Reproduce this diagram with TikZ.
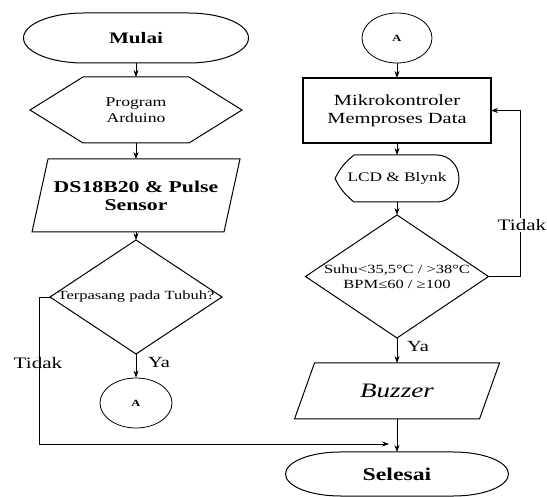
\documentclass[tikz,border=0pt]{standalone}
\usepackage{fontspec}
\setmainfont{Liberation Serif}[FakeStretch=1.32]
\usetikzlibrary{shapes.geometric,arrows.meta}

\begin{document}
\begin{tikzpicture}[x=1pt,y=1pt]
        \tikzstyle{txt}=[inner sep=0pt,outer sep=0pt,align=center]
        \tikzstyle{outline}=[draw=black,line width=1pt]
        \tikzstyle{connector}=[ellipse,draw=black,line width=0.8pt,inner sep=0pt,minimum width=72pt,minimum height=50pt,font=\bfseries\fontsize{9.5}{10}\selectfont]
        \tikzstyle{edge}=[draw,line width=0.8pt,-{Stealth[length=7pt,width=5pt]}]
        \tikzstyle{answer}=[inner sep=1pt,font=\fontsize{16}{18}\selectfont]
        \useasboundingbox (0,0) rectangle (547,-497);
        % left column
        \node [txt,minimum width=225pt,minimum height=50pt,font=\bfseries\fontsize{16}{18}\selectfont] (mulai) at (136,-38) {Mulai};
        \node [txt,minimum width=212pt,minimum height=66pt,font=\fontsize{13.4}{16.5}\selectfont] (prog) at (136,-110) {Program\\Arduino};
        \node [txt,minimum width=208pt,minimum height=73pt,font=\bfseries\fontsize{16.5}{18}\selectfont] (sens) at (136,-195.5) {DS18B20 \& Pulse\\Sensor};
        \node [txt,minimum width=172pt,minimum height=114pt,font=\fontsize{12.5}{14}\selectfont] (cek) at (136,-297) {Terpasang pada Tubuh?};
        \node [connector] (conA1) at (136,-403) {A};
        % right column
        \node [connector,minimum width=70pt] (conA2) at (397,-38) {A};
        \node [txt,draw=black,line width=1.6pt,minimum width=188pt,minimum height=65pt,font=\fontsize{15.5}{18}\selectfont] (mcu) at (397,-110.5) {Mikrokontroler\\Memproses Data};
        \node [txt,minimum width=124pt,minimum height=47pt,font=\fontsize{13.1}{15}\selectfont] (lcd) at (397,-178.5) {LCD \& Blynk};
        \node [txt,minimum width=183pt,minimum height=123pt,font=\fontsize{12.5}{14.5}\selectfont] (alarm) at (397,-276.5) {Suhu<35,5°C / >38°C\\BPM≤60 / ≥100};
        \node [txt,minimum width=205pt,minimum height=56pt,font=\itshape\fontsize{20.5}{22}\selectfont] (buzz) at (397,-391) {Buzzer};
        \node [txt,minimum width=223pt,minimum height=44pt,font=\bfseries\fontsize{18}{20}\selectfont] (selesai) at (397,-474) {Selesai};
        \coordinate (masuk) at (389,-444);
        % outlines
        \draw [outline] ([xshift=60]mulai.north west) -- ([xshift=-60]mulai.north east)
            arc [start angle=90,end angle=-90,x radius=60,y radius=25] -- ([xshift=60]mulai.south west)
            arc [start angle=270,end angle=90,x radius=60,y radius=25] -- cycle;
        \draw [outline] ([xshift=53]prog.north west) -- ([xshift=-53]prog.north east) -- (prog.east)
            -- ([xshift=-53]prog.south east) -- ([xshift=53]prog.south west) -- (prog.west) -- cycle;
        \draw [outline] ([xshift=16]sens.north west) -- (sens.north east) -- ([xshift=-16]sens.south east) -- (sens.south west) -- cycle;
        \draw [outline] (cek.north) -- (cek.east) -- (cek.south) -- (cek.west) -- cycle;
        \draw [outline] (lcd.west) to [bend left=12] ([xshift=19]lcd.north west) -- ([xshift=-22]lcd.north east)
            arc [start angle=90,end angle=-90,x radius=22,y radius=23.5] -- ([xshift=19]lcd.south west)
            to [bend left=12] (lcd.west) -- cycle;
        \draw [outline] (alarm.north) -- (alarm.east) -- (alarm.south) -- (alarm.west) -- cycle;
        \draw [outline] ([xshift=20]buzz.north west) -- (buzz.north east) -- ([xshift=-20]buzz.south east) -- (buzz.south west) -- cycle;
        \draw [outline] ([xshift=55]selesai.north west) -- ([xshift=-55]selesai.north east)
            arc [start angle=90,end angle=-90,x radius=55,y radius=22] -- ([xshift=55]selesai.south west)
            arc [start angle=270,end angle=90,x radius=55,y radius=22] -- cycle;
        % arrows
        \path[edge] (mulai) edge (prog);
        \path[edge] (prog) edge (sens);
        \path[edge] (sens) edge (cek);
        \path[edge] (cek) edge (conA1);
        \path[edge] (conA2) edge (mcu);
        \path[edge] (mcu) edge (lcd);
        \path[edge] (lcd) edge (alarm);
        \path[edge] (alarm) edge (buzz);
        \path[edge] (buzz) edge (selesai);
        \draw[edge] (cek.west) -- ++(-11,0) |- (masuk);
        \draw[edge] (alarm.east) -- ++(32,0) |- (mcu.east);
        % labels
        \node [answer,anchor=west,font=\fontsize{15.5}{18}\selectfont] (ya1) at (147,-363) {Ya};
        \node [answer] (tidak1) at (38,-363) {Tidak};
        \node [answer,anchor=west,font=\fontsize{15.5}{18}\selectfont] (ya2) at (406,-347) {Ya};
        \node [answer,fill=white] (tidak2) at (522,-225) {Tidak};
\end{tikzpicture}
\end{document}
